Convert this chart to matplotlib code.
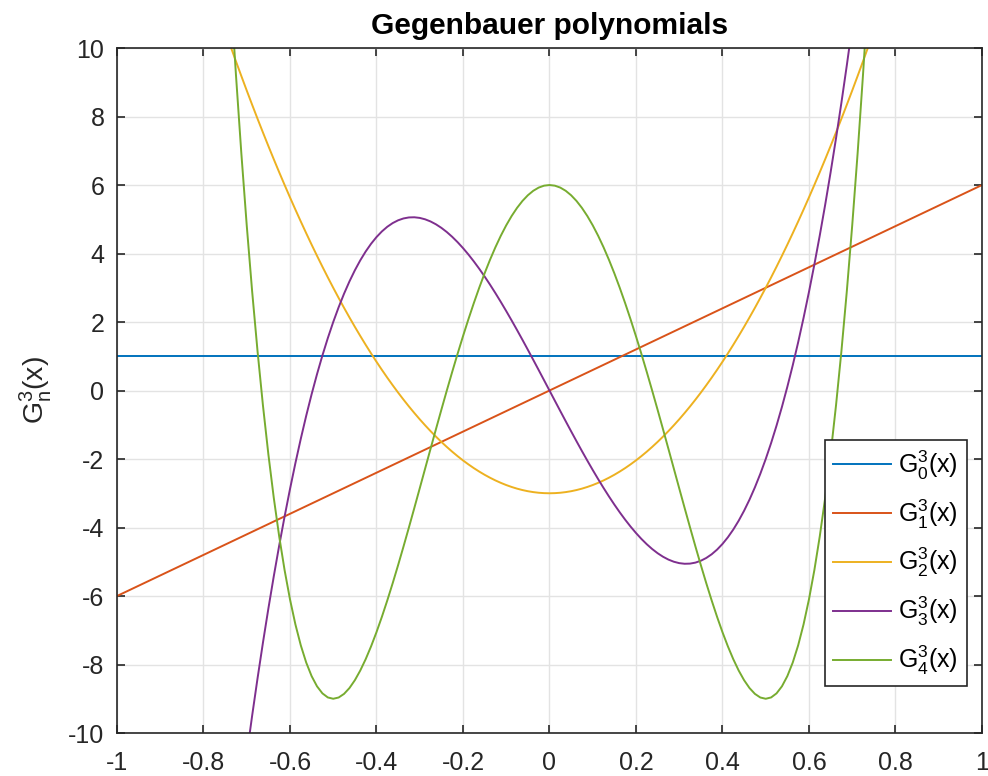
import numpy as np
import matplotlib.pyplot as plt

plt.rcParams['font.family'] = ['Liberation Sans', 'DejaVu Sans']
plt.rcParams['mathtext.fontset'] = 'custom'
plt.rcParams['mathtext.rm'] = 'Liberation Sans'
plt.rcParams['axes.unicode_minus'] = False

# straight lines, n = 0 and n = 1
x_line = [-1.0, 1.0]
g0 = [1.0, 1.0]
g1 = [-6.0, 6.0]

# sample points, n = 2..4 (x from -0.75 to 0.75, step 0.0125)
x_curve = np.linspace(-0.75, 0.75, 121)

g2 = [10.5, 10.054, 9.615, 9.184, 8.76, 8.344, 7.935, 7.534, 7.14, 6.754,
      6.375, 6.004, 5.64, 5.284, 4.935, 4.594, 4.26, 3.934, 3.615, 3.304,
      3.0, 2.704, 2.415, 2.134, 1.86, 1.594, 1.335, 1.084, 0.84, 0.604,
      0.375, 0.154, -0.06, -0.266, -0.465, -0.656, -0.84, -1.016, -1.185, -1.346,
      -1.5, -1.646, -1.785, -1.916, -2.04, -2.156, -2.265, -2.366, -2.46, -2.546,
      -2.625, -2.696, -2.76, -2.816, -2.865, -2.906, -2.94, -2.966, -2.985, -2.996,
      -3.0,
      -2.996, -2.985, -2.966, -2.94, -2.906, -2.865, -2.816, -2.76, -2.696, -2.625,
      -2.546, -2.46, -2.366, -2.265, -2.156, -2.04, -1.916, -1.785, -1.646, -1.5,
      -1.346, -1.185, -1.016, -0.84, -0.656, -0.465, -0.266, -0.06, 0.154, 0.375,
      0.604, 0.84, 1.084, 1.335, 1.594, 1.86, 2.134, 2.415, 2.704, 3.0,
      3.304, 3.615, 3.934, 4.26, 4.594, 4.935, 5.284, 5.64, 6.004, 6.375,
      6.754, 7.14, 7.534, 7.935, 8.344, 8.76, 9.184, 9.615, 10.054, 10.5]

g3 = [-15.75, -14.3905, -13.0863, -11.8364, -10.64, -9.4961, -8.4038, -7.362, -6.37, -5.4267,
      -4.5313, -3.6827, -2.88, -2.1223, -1.4088, -0.7383, -0.11, 0.477, 1.0238, 1.5311,
      2.0, 2.4314, 2.8263, 3.1855, 3.51, 3.8008, 4.0588, 4.2848, 4.48, 4.6452,
      4.7813, 4.8892, 4.97, 5.0245, 5.0538, 5.0586, 5.04, 4.9989, 4.9363, 4.853,
      4.75, 4.6283, 4.4888, 4.3323, 4.16, 3.9727, 3.7713, 3.5567, 3.33, 3.092,
      2.8438, 2.5861, 2.32, 2.0464, 1.7663, 1.4805, 1.19, 0.8958, 0.5988, 0.2998,
      0.0,
      -0.2998, -0.5988, -0.8958, -1.19, -1.4805, -1.7663, -2.0464, -2.32, -2.5861, -2.8438,
      -3.092, -3.33, -3.5567, -3.7713, -3.9727, -4.16, -4.3323, -4.4888, -4.6283, -4.75,
      -4.853, -4.9363, -4.9989, -5.04, -5.0586, -5.0538, -5.0245, -4.97, -4.8892, -4.7813,
      -4.6452, -4.48, -4.2848, -4.0588, -3.8008, -3.51, -3.1855, -2.8263, -2.4314, -2.0,
      -1.5311, -1.0238, -0.477, 0.11, 0.7383, 1.4088, 2.1223, 2.88, 3.6827, 4.5313,
      5.4267, 6.37, 7.362, 8.4038, 9.4961, 10.64, 11.8364, 13.0863, 14.3905, 15.75]

g4 = [14.4375, 11.7314, 9.2326, 6.9328, 4.824, 2.8982, 1.1476, -0.4355, -1.8585, -3.1289,
      -4.2539, -5.2406, -6.096, -6.8269, -7.4399, -7.9417, -8.3385, -8.6367, -8.8424, -8.9616,
      -9.0, -8.9634, -8.8574, -8.6873, -8.4585, -8.176, -7.8449, -7.47, -7.056, -6.6075,
      -6.1289, -5.6245, -5.0985, -4.5548, -3.9974, -3.4299, -2.856, -2.2791, -1.7024, -1.1292,
      -0.5625, -0.0052, 0.5401, 1.0706, 1.584, 2.0779, 2.5501, 2.9986, 3.4215, 3.817,
      4.1836, 4.5197, 4.824, 5.0953, 5.3326, 5.5349, 5.7015, 5.8317, 5.9251, 5.9813,
      6.0,
      5.9813, 5.9251, 5.8317, 5.7015, 5.5349, 5.3326, 5.0953, 4.824, 4.5197, 4.1836,
      3.817, 3.4215, 2.9986, 2.5501, 2.0779, 1.584, 1.0706, 0.5401, -0.0052, -0.5625,
      -1.1292, -1.7024, -2.2791, -2.856, -3.4299, -3.9974, -4.5548, -5.0985, -5.6245, -6.1289,
      -6.6075, -7.056, -7.47, -7.8449, -8.176, -8.4585, -8.6873, -8.8574, -8.9634, -9.0,
      -8.9616, -8.8424, -8.6367, -8.3385, -7.9417, -7.4399, -6.8269, -6.096, -5.2406, -4.2539,
      -3.1289, -1.8585, -0.4355, 1.1476, 2.8982, 4.824, 6.9328, 9.2326, 11.7314, 14.4375]

colors = ['#0072BD', '#D95319', '#EDB120', '#7E2F8E', '#77AC30']
labels = [r'$\mathregular{G_{%d}^{3}(x)}$' % n for n in range(5)]

fig = plt.figure(figsize=(9.88, 7.76), dpi=100)
ax = fig.add_axes([0.1184, 0.0554, 0.8755, 0.8827])

ax.plot(x_line, g0, color=colors[0], lw=1.4, label=labels[0])
ax.plot(x_line, g1, color=colors[1], lw=1.4, label=labels[1])
ax.plot(x_curve, g2, color=colors[2], lw=1.4, label=labels[2])
ax.plot(x_curve, g3, color=colors[3], lw=1.4, label=labels[3])
ax.plot(x_curve, g4, color=colors[4], lw=1.4, label=labels[4])

ax.set_xlim(-1, 1)
ax.set_ylim(-10, 10)
ax.set_xticks(np.arange(-1, 1.01, 0.2))
ax.set_xticklabels(['-1', '-0.8', '-0.6', '-0.4', '-0.2', '0', '0.2', '0.4', '0.6', '0.8', '1'])
ax.set_yticks(np.arange(-10, 11, 2))
ax.grid(True, color='#E3E3E3', lw=1)
ax.set_axisbelow(True)
ax.tick_params(direction='in', top=True, right=True, length=6, width=1.2,
               labelsize=18, colors='#262626')
ax.tick_params(axis='x', pad=13)
ax.tick_params(axis='y', pad=9)
for s in ax.spines.values():
    s.set_color('#262626')
    s.set_linewidth(1.2)

ax.set_title('Gegenbauer polynomials', fontsize=21.5, fontweight='bold', pad=10)
ax.set_ylabel(r'$\mathregular{G_{n}^{3}(x)}$', fontsize=20.5, color='#262626', labelpad=10)

leg = ax.legend(loc='lower right', fontsize=18, frameon=True, fancybox=False,
                edgecolor='#262626', framealpha=1, handlelength=2.3, handletextpad=0.3,
                borderpad=0.35, borderaxespad=0.0, bbox_to_anchor=(0.9827, 0.0686),
                labelspacing=0.62)
leg.get_frame().set_linewidth(1.2)

fig.savefig('out.png', dpi=100)
